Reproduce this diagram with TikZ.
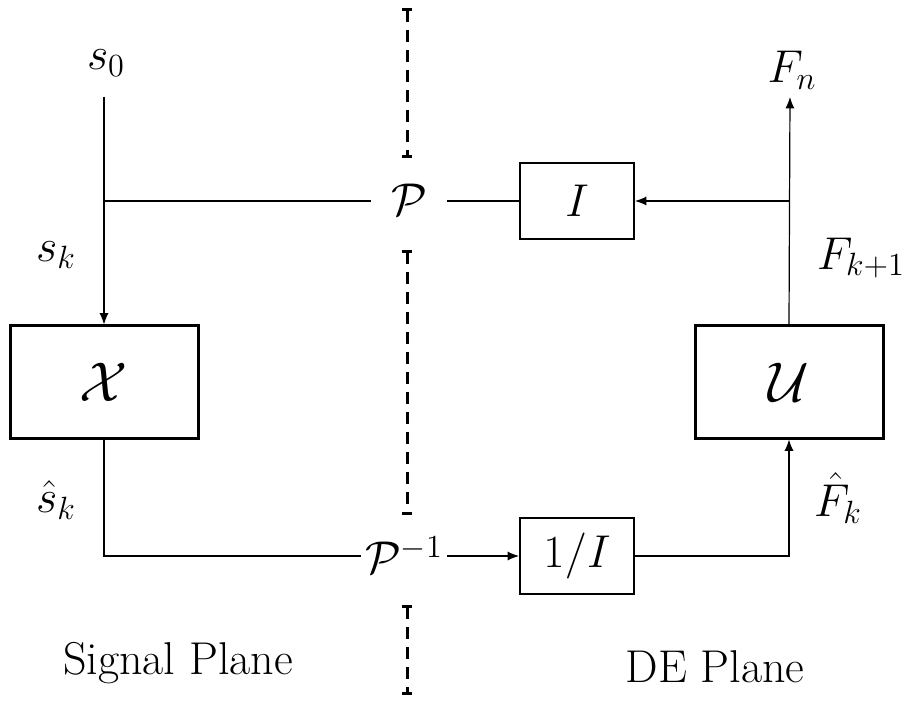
\RequirePackage{fix-cm}
\documentclass[tikz,border=0pt]{standalone}
\usepackage{amsmath,amssymb}
\usetikzlibrary{arrows.meta,positioning}
\newcommand{\diagfont}{\fontsize{23}{27}\selectfont}
\newcommand{\diagbigfont}{\fontsize{28}{33}\selectfont}
\begin{document}
\begin{tikzpicture}[
        x=0.5pt, y=0.5pt,
        bigbox/.style={draw, line width=1.5pt, minimum width=94pt, minimum height=56pt, font=\diagbigfont},
        smallbox/.style={draw, line width=1pt, minimum width=57pt, minimum height=38pt, font=\diagfont},
        lbl/.style={font=\diagfont, inner sep=0pt},
        wire/.style={line width=0.6pt},
        arr/.style={wire, -{Latex[length=2mm,width=1.6mm]}},
        plane/.style={line width=1.5pt, dash pattern=on 6pt off 4pt, {Bar[width=5pt]}-{Bar[width=5pt]}}
      ]
      \useasboundingbox (0,0) rectangle (906,703);
      % blocks
      \node[bigbox] (X) at (104,321) {$\mathcal{X}$};
      \node[bigbox] (U) at (789,321) {$\mathcal{U}$};
      \node[smallbox] (I) at (577,502) {$I$};
      \node[smallbox] (Iinv) at (577,147) {$1/I$};
      \node[font=\diagfont, inner xsep=10pt] (P) at (409,503) {$\mathcal{P}$};
      \node[font=\diagfont, inner sep=2pt] (Pinv) at (404,148) {$\mathcal{P}^{-1}$};
      % labels
      \node[lbl] (s0) at (106,640) {$s_0$};
      \coordinate (s0in) at (104,606);
      \node[lbl] (Fn) at (792,633) {$F_n$};
      \coordinate (Fnout) at (790,606);
      \node[lbl] (sk) at (56,448) {$s_k$};
      \node[lbl] (shat) at (56,203) {$\hat{s}_k$};
      \node[lbl] (Fk1) at (861,445) {$F_{k+1}$};
      \node[lbl] (Fhat) at (838,205) {$\hat{F}_k$};
      \node[lbl] (sig) at (178,40) {Signal Plane};
      \node[lbl] (de) at (715,36) {DE Plane};

      % signal side
      \draw[arr] (s0in) -- (X.north);
      \draw[wire] (X.north |- I.west) -- (P.west |- I.west);
      \draw[wire] (P.east |- I.west) -- (I.west);
      \draw[wire] (X.south) |- (Pinv.west |- Iinv.west);
      \draw[arr] (Pinv.east |- Iinv.west) -- (Iinv.west);
      % DE side
      \draw[arr] (U.north) -- (Fnout);
      \draw[arr] (U.north |- I.east) -- (I.east);
      \draw[arr] (Iinv.east) -| (U.south);

      % separating plane
      \foreach \a/\b in {695/545, 453/188, 98/8}
        \draw[plane] (407,\a) -- (407,\b);
    \end{tikzpicture}
\end{document}
